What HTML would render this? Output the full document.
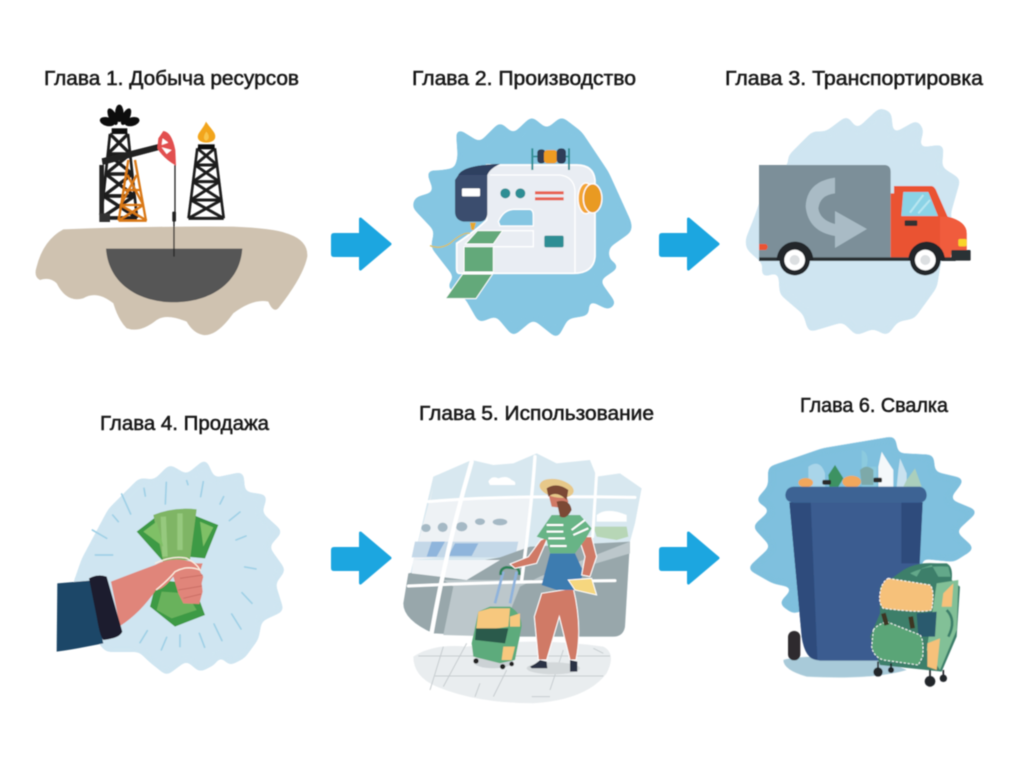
<!DOCTYPE html>
<html lang="ru"><head><meta charset="utf-8"><title>Главы</title>
<style>html,body{margin:0;padding:0;background:#fff}svg{display:block}
text{font-family:"Liberation Sans","DejaVu Sans",sans-serif;font-size:20.5px;fill:#1a1a1a;stroke:#1a1a1a;stroke-width:.55}</style></head>
<body>
<svg width="1024" height="767" viewBox="0 0 1024 767" xmlns="http://www.w3.org/2000/svg">
<defs>
<filter id="b" x="-5%" y="-5%" width="110%" height="110%"><feGaussianBlur stdDeviation=".55"/></filter>
<filter id="goo" x="-10%" y="-10%" width="120%" height="120%" color-interpolation-filters="sRGB"><feGaussianBlur stdDeviation="10"/><feComponentTransfer><feFuncA type="linear" slope="25" intercept="-12"/></feComponentTransfer></filter>
<g id="arrow"><path d="M3 18.5H29.5V3L59 28 29.5 53V39.5H3Q1.500 39.500 1.500 38V20Q1.500 18.500 3 18.500Z" fill="#1ea6e0" stroke="#1ea6e0" stroke-width="3" stroke-linejoin="round"/></g>
<g id="tower" fill="none" stroke="#1c1c1c" stroke-width="9">
<path d="M0 0L-30 210M60 0L90 210M-8 50H68M-15 100H75M-22 155H82M-30 210H90M0 0L68 50M60 0L-8 50M-8 50L75 100M68 50L-15 100M-15 100L82 155M75 100L-22 155M-22 155L90 210M82 155L-30 210"/>
</g>
</defs>
<g filter="url(#b)">
<text x="44" y="85" textLength="255" lengthAdjust="spacingAndGlyphs">Глава 1. Добыча ресурсов</text>
<text x="412" y="85" textLength="224" lengthAdjust="spacingAndGlyphs">Глава 2. Производство</text>
<text x="725" y="85" textLength="258" lengthAdjust="spacingAndGlyphs">Глава 3. Транспортировка</text>
<text x="100" y="430" textLength="169" lengthAdjust="spacingAndGlyphs">Глава 4. Продажа</text>
<text x="419" y="420" textLength="235" lengthAdjust="spacingAndGlyphs">Глава 5. Использование</text>
<text x="800" y="412" textLength="148" lengthAdjust="spacingAndGlyphs">Глава 6. Свалка</text>

<use href="#arrow" x="331" y="216"/><use href="#arrow" x="659" y="216"/>
<use href="#arrow" x="331" y="530"/><use href="#arrow" x="659" y="530"/>

<!-- Oil -->
<g transform="translate(20,50) scale(.3333)">
<path d="M130 538Q400 528 640 530Q760 535 800 550Q865 570 862 620Q850 680 775 775Q760 790 745 755Q700 745 640 790Q590 860 550 855Q520 850 500 815Q440 790 410 810Q360 850 320 835Q295 810 280 760Q230 720 190 745Q140 760 110 700Q90 680 60 690Q40 680 50 650Q70 570 130 538Z" fill="#cfc2b0"/>
<path d="M258 596H667C660 700 570 757 462 757S265 700 258 596Z" fill="#565656"/>
<path d="M465 345V490M462 510V620" stroke="#222" stroke-width="4"/><rect x="457" y="485" width="11" height="30" rx="3" fill="#222"/>
<g transform="translate(270,252) scale(.9,1.2)"><use href="#tower"/></g>
<path d="M275 235H322V252H275Z" fill="#111"/>
<ellipse cx="298" cy="190" rx="13" ry="26" fill="#111"/><ellipse cx="278" cy="200" rx="12" ry="27" fill="#111" transform="rotate(-25 278 200)"/><ellipse cx="318" cy="200" rx="12" ry="27" fill="#111" transform="rotate(25 318 200)"/><ellipse cx="262" cy="215" rx="23" ry="13" fill="#111" transform="rotate(15 262 215)"/><ellipse cx="336" cy="215" rx="23" ry="13" fill="#111" transform="rotate(-15 336 215)"/>
<g fill="none" stroke="#d97818" stroke-width="7"><path d="M325 330L296 512M345 330L378 512M310 420H360M302 465H370M296 512H380M322 375L370 465M350 375L302 465M302 465L380 512M370 465L296 512"/></g>
<path d="M245 325L415 282L418 300L248 345Z" fill="#222"/>
<rect x="238" y="345" width="14" height="150" fill="#222"/><rect x="238" y="490" width="32" height="26" fill="#333"/>
<path d="M430 243Q455 245 466 300L468 347Q430 325 412 295L415 265Z" fill="#e25050"/>
<path d="M428 265L445 278L425 285ZM425 292L455 300L440 312Z" fill="#fff"/>
<g transform="translate(532,295) scale(.88,1)"><use href="#tower"/></g>
<rect x="534" y="283" width="50" height="15" fill="#111"/>
<path d="M558 215C575 240 590 250 585 265C578 282 540 282 534 265C530 250 548 240 558 215Z" fill="#f2a51e"/>
<path d="M559 245C568 255 570 268 558 272C548 268 552 255 559 245Z" fill="#f8c64e"/>
</g>

<!-- Sewing machine -->
<g transform="translate(400,100) scale(.3333)">
<polygon filter="url(#goo)" points="175,95 240,135 300,75 340,110 395,58 440,95 485,58 540,100 620,220 688,370 688,392 620,440 620,480 648,500 590,540 640,610 625,622 560,590 560,640 500,650 470,706 400,650 340,700 290,640 240,660 200,590 150,560 170,530 100,440 110,390 44,320 50,298 110,280 88,218 120,218 170,210 180,170" fill="#85c6e2" stroke="#85c6e2" stroke-width="14" stroke-linejoin="round"/>
<path d="M270 195H530Q580 195 585 240V470Q580 520 520 520H180Q170 520 170 505V430Q230 390 260 360V195Z" fill="#e9edf3" stroke="#fff" stroke-width="5"/>
<path d="M270 225H480Q520 230 525 270V520" fill="none" stroke="#fff" stroke-width="4"/>
<path d="M295 365Q310 330 340 328H390Q400 330 400 345V378H300Z" fill="#85c6e2" stroke="#fff" stroke-width="4"/>
<path d="M260 392H400V440H280" fill="none" stroke="#fff" stroke-width="4"/>
<path d="M175 225Q190 195 300 192Q270 205 262 225V340Q262 362 240 365H190Q165 360 165 335V240Z" fill="#3a4e6e"/>
<path d="M175 225Q190 195 300 192Q270 205 262 225Z" fill="#2f4060"/>
<rect x="186" y="265" width="54" height="24" rx="3" fill="#fff"/>
<circle cx="316" cy="280" r="15" fill="#2f8e94"/><circle cx="361" cy="280" r="15" fill="#2f8e94"/>
<rect x="405" y="274" width="86" height="9" fill="#e8604f"/><rect x="405" y="292" width="86" height="9" fill="#e8604f"/>
<rect x="433" y="407" width="58" height="35" rx="5" fill="#2f8e94"/>
<ellipse cx="558" cy="295" rx="24" ry="46" fill="#f3a530" stroke="#fff" stroke-width="4"/>
<ellipse cx="578" cy="295" rx="28" ry="44" fill="#e99a24" stroke="#fff" stroke-width="4"/>
<rect x="394" y="145" width="6" height="65" fill="#2f8e94"/><rect x="504" y="145" width="6" height="65" fill="#2f8e94"/>
<rect x="400" y="167" width="104" height="5" fill="#2f8e94"/>
<rect x="412" y="148" width="24" height="42" rx="10" fill="#333d52"/><rect x="432" y="150" width="40" height="40" rx="10" fill="#ee9b22"/><rect x="470" y="145" width="28" height="46" rx="12" fill="#2e3e58"/>
<path d="M210 368L228 368L222 390L214 390Z" fill="#e7a82c"/>
<path d="M90 437Q120 450 150 430Q190 395 210 400" fill="none" stroke="#d7c060" stroke-width="4"/>
<path d="M232 392H308L280 432H196Z" fill="#63a97a" stroke="#fff" stroke-width="3"/>
<rect x="192" y="440" width="88" height="76" fill="#63a97a" stroke="#fff" stroke-width="3"/>
<path d="M188 522H278L228 596H136Z" fill="#63a97a" stroke="#fff" stroke-width="3"/>
</g>

<!-- Truck -->
<g transform="translate(740,100) scale(.3333)">
<polygon filter="url(#goo)" points="150,170 220,100 260,100 320,55 350,95 420,30 448,40 455,110 530,68 545,90 530,150 605,140 600,205 655,240 625,345 650,420 600,470 585,560 520,650 470,660 440,700 400,680 350,700 310,660 210,690 195,640 125,580 120,510 70,525 75,490 25,445 22,420 50,350 90,230 150,200" fill="#cfe5f1" stroke="#cfe5f1" stroke-width="12" stroke-linejoin="round"/>
<path d="M57 195H435Q452 197 452 215V472H57Z" fill="#7b8f99"/>
<path d="M285 233V280Q240 285 235 325Q240 360 285 372V333L381 387L285 444V408Q205 395 197 320Q200 245 285 233Z" fill="#a9bbc5"/>
<path d="M452 280H462V258H575Q585 260 590 275L623 350Q680 365 680 400V450H636L632 472H452Z" fill="#ea5233"/>
<path d="M600 350L623 350Q680 365 680 400V450H636L632 472H600Z" fill="#f05c3c"/>
<path d="M490 276H565L594 348H484Z" fill="#8bd3e6"/>
<path d="M510 338L550 285M535 340L570 300" stroke="#b7e6f0" stroke-width="6"/>
<rect x="494" y="361" width="38" height="17" rx="3" fill="#333"/>
<rect x="655" y="417" width="25" height="22" rx="5" fill="#f9d52c"/>
<rect x="634" y="450" width="58" height="32" rx="3" fill="#2c3036"/>
<rect x="57" y="472" width="590" height="11" fill="#2c3036"/>
<path d="M57 432H78Q88 440 78 450H57Z" fill="#ea5233"/>
<path d="M110 480A55 55 0 0 1 220 480Z" fill="#23272c"/><path d="M505 480A55 55 0 0 1 615 480Z" fill="#23272c"/>
<g><circle cx="164" cy="480" r="46" fill="#23272c"/><circle cx="164" cy="480" r="31" fill="#fff"/><circle cx="164" cy="480" r="15" fill="#dcdfe1"/>
<circle cx="556" cy="480" r="46" fill="#23272c"/><circle cx="556" cy="480" r="31" fill="#fff"/><circle cx="556" cy="480" r="15" fill="#dcdfe1"/></g>
</g>

<!-- Money -->
<g transform="translate(40,450) scale(.3333)">
<polygon filter="url(#goo)" points="85,460 130,330 210,180 260,130 300,90 345,95 390,50 440,80 495,35 520,90 605,72 610,130 675,140 660,190 720,245 680,290 730,360 700,400 725,480 660,510 650,565 610,620 570,640 540,610 520,640 480,660 440,625 380,670 330,630 300,600 200,600 150,540" fill="#cfe5f1" stroke="#cfe5f1" stroke-width="12" stroke-linejoin="round"/>
<g stroke="#9fd0e6" stroke-width="5" stroke-linecap="round" fill="none">
<path d="M245 132L272 192M218 195L235 215M157 240L200 265M166 315L218 315M312 115L316 138M379 97L376 162M440 92L444 104M490 95L482 140M551 140L540 162M600 186L568 212M618 258L588 270M614 351L648 357M606 428L636 460M575 492L603 537M522 522L546 572M478 550L494 592M420 555L420 590M380 562L364 600M322 542L300 578"/>
</g>
<path d="M290 245L355 195L440 320L370 335Z" fill="#3d9a45"/><path d="M460 195L535 225L495 325L440 320Z" fill="#3d9a45"/>
<path d="M340 195Q400 170 470 178L450 330L370 335Z" fill="#7fb565"/>
<path d="M370 200L375 320M420 190L420 300" stroke="#96c97e" stroke-width="16"/>
<path d="M480 215L520 232L490 290Z" fill="#7fc066"/><path d="M310 245L350 215L370 290Z" fill="#7fc066"/>
<path d="M350 390L330 470L405 530L495 495L460 400Z" fill="#3d9a45"/><path d="M365 425L350 480L395 505L470 480L440 430Z" fill="#69b25c"/>
<path d="M213 395Q290 365 345 345Q400 315 470 340L488 340L480 365L490 380L485 400L488 425L478 462L430 460L415 430L400 380Q370 420 348 420Q300 490 240 528Z" fill="#e0857a"/>
<path d="M420 385L488 375M415 420L486 408M430 445L484 432" stroke="#c96d64" stroke-width="3"/>
<path d="M345 340Q400 315 440 325Q470 340 480 360Q440 345 405 365Q385 390 348 420" fill="none" stroke="#fbeee0" stroke-width="4"/>
<path d="M52 400L150 392L190 580L140 590Q90 600 50 605Z" fill="#1d4668"/>
<path d="M147 385Q175 370 200 380L247 545Q240 565 190 570Q180 560 170 500Z" fill="#1c1b2e"/>
</g>

<!-- Traveler -->
<g transform="translate(400,440) scale(.3333)">
<path d="M100 110L215 60L280 75L340 70L410 40L470 70L570 60L590 110L660 100L725 145L705 250L690 305L675 560Q670 590 640 590H300L100 580Q10 540 10 490Z" fill="#d8e8f0"/>
<path d="M100 140L40 360L370 330L395 175L195 180L90 185Z" fill="#eef2f5"/>
<path d="M45 305H355L345 352H35Z" fill="#c4d8e8"/><path d="M95 305H135L110 350H80ZM165 310H235L215 348H145Z" fill="#8fb5dc"/>
<path d="M25 400L300 352L390 320L690 305L675 560Q670 590 640 590H300L100 580Q10 540 10 490Z" fill="#98a7ab"/>
<path d="M130 420L160 440L130 585L300 590L360 440L420 410L690 305V340L420 420Z" fill="#bcc7cb"/>
<path d="M40 360H300L200 420L35 400Z" fill="#f1f4f7"/>
<g fill="#a5b9c5"><ellipse cx="78" cy="264" rx="14" ry="12"/><ellipse cx="128" cy="262" rx="15" ry="14"/><ellipse cx="185" cy="260" rx="17" ry="14"/><ellipse cx="240" cy="245" rx="15" ry="10"/><ellipse cx="300" cy="246" rx="22" ry="10"/></g>
<path d="M265 125Q275 105 295 115Q320 105 335 120Q350 125 345 135H270Z" fill="#fff"/>
<path d="M590 225Q620 200 680 225V245H590Z" fill="#fff"/>
<path d="M580 260L680 260L685 290L650 300L590 290Z" fill="#b7d6b6"/>
<g stroke="#fff" fill="none" stroke-linecap="round"><path d="M215 65Q140 320 95 578" stroke-width="13"/><path d="M405 50Q395 200 365 420" stroke-width="10"/><path d="M590 100Q585 180 578 290" stroke-width="9"/><path d="M85 185Q300 165 705 172" stroke-width="9"/><path d="M25 438Q300 425 645 422" stroke-width="9"/></g>
<path d="M40 650Q100 610 200 620Q400 590 610 620Q650 640 620 700Q560 780 400 790Q230 790 110 740Q40 710 40 650Z" fill="#e9edef"/>
<path d="M55 648H630M105 708H610M130 620L90 750M200 610L130 740M320 690L280 770M490 630L450 750M240 730L225 770M395 770H450M580 625L610 640" stroke="#c6cccf" stroke-width="3" fill="none"/>
<ellipse cx="280" cy="665" rx="60" ry="20" fill="#ccd2d5"/><ellipse cx="460" cy="685" rx="80" ry="18" fill="#d3d8da"/>
<path d="M310 395L285 490M350 395L330 490" fill="none" stroke="#8fb3dc" stroke-width="8"/>
<path d="M302 405Q300 385 320 382L350 385Q360 390 358 405" fill="none" stroke="#2f8259" stroke-width="8"/>
<path d="M235 515L270 500H330Q365 520 365 560L345 660L300 670L220 650L215 610Z" fill="#5dab7c"/>
<path d="M235 515L270 505H330L325 560L228 575Z" fill="#f7c87e"/>
<path d="M330 530L360 520L360 560L330 560ZM310 620H345L335 660H305Z" fill="#f7c87e"/>
<path d="M228 565L325 565L315 610L225 600Z" fill="#2a5a4b"/>
<circle cx="228" cy="663" r="8" fill="#222"/><circle cx="308" cy="680" r="8" fill="#222"/><circle cx="335" cy="672" r="7" fill="#222"/>
<path d="M425 460L520 445Q548 560 528 660H510L478 530L440 660H415L403 530Z" fill="#d07a66" stroke="#fff" stroke-width="3"/>
<path d="M390 680Q410 670 420 660L440 665L442 685H395ZM510 660L532 665L532 695H510Z" fill="#2a3244"/>
<path d="M450 340H525L550 395L535 450H470L425 435Z" fill="#3c7cb0"/>
<path d="M422 300L445 290L410 370L345 385L330 372L385 350ZM535 290L575 290L590 350L570 410L545 405L555 350Z" fill="#d07a66" stroke="#fff" stroke-width="3"/>
<path d="M455 225L540 225L575 265L555 300L525 340H450L440 300L410 290Z" fill="#68b486"/>
<path d="M440 255H490M440 275H490M445 295H495M450 318H500M515 270L555 240M520 285L565 265" stroke="#fff" stroke-width="6"/>
<path d="M505 420L575 415L590 465L525 450Z" fill="#f6d77f" stroke="#fff" stroke-width="3"/>
<path d="M445 160Q490 130 505 185L495 205L455 200Z" fill="#d07a66"/>
<path d="M470 185Q510 175 515 210Q500 240 480 230Z" fill="#7c4a35"/>
<ellipse cx="470" cy="145" rx="52" ry="27" fill="#e7c889" transform="rotate(12 470 145)"/>
<path d="M440 145Q470 125 505 150L500 180Q470 150 445 170Z" fill="#7c4a35"/>
</g>

<!-- Bin -->
<g transform="translate(740,430) scale(.3333)">
<polygon filter="url(#goo)" points="90,115 250,60 460,25 470,75 575,80 580,130 665,150 620,210 705,245 640,305 695,355 640,390 540,380 540,420 160,545 125,520 170,470 100,455 30,415 100,350 45,290 100,240 55,210 90,170" fill="#7fc0de" stroke="#7fc0de" stroke-width="12" stroke-linejoin="round"/>
<path d="M130 690Q200 670 430 690L500 720Q400 750 200 740Q130 720 130 690Z" fill="#a8cad9"/>
<rect x="144" y="603" width="37" height="88" rx="18" fill="#2d2a2e"/>
<path d="M205 110Q240 85 255 130V170H205Z" fill="#a9d5e9"/><path d="M365 60Q390 70 380 110H410V170H365V120Z" fill="#8ccadf"/>
<path d="M425 65Q440 90 460 120V170H415V110Z" fill="#f4f8fa"/><path d="M480 85L500 130V170H470L475 120Z" fill="#c9e2ef"/>
<path d="M500 150L525 115L545 170H490Z" fill="#aacfbc"/>
<path d="M265 135L285 105L310 145L295 170H268Z" fill="#3c9262"/>
<ellipse cx="197" cy="158" rx="22" ry="14" fill="#f1a75c"/><ellipse cx="335" cy="155" rx="28" ry="18" fill="#f1a75c"/>
<rect x="247" y="150" width="26" height="14" rx="5" fill="#2b2b2b"/><rect x="400" y="143" width="26" height="14" rx="5" fill="#2b2b2b"/>
<path d="M360 120Q380 100 400 120L400 165H365Z" fill="#7da9a9"/>
<path d="M148 217H548L530 600Q525 670 470 692H240Q195 690 185 620Z" fill="#3a5c90"/>
<path d="M148 217H212L232 690Q195 690 185 620Z" fill="#2f4b7c"/><path d="M484 217H548L538 400H484Z" fill="#2f4b7c"/>
<path d="M160 170H540Q560 175 560 197Q558 218 535 218H160Q136 215 136 195Q138 172 160 170Z" fill="#3d6494"/>
<path d="M490 420Q530 395 590 400H620Q640 410 635 450L660 470L650 620L605 725L420 705L390 620L420 550L420 470Z" fill="#3c7f6a"/>
<path d="M510 430Q560 405 625 410L632 440H595L575 405L545 415L530 440Z" fill="#7dc3a0" opacity=".6"/>
<path d="M590 460L655 450L650 600L600 720L560 660Z" fill="#82c097"/>
<path d="M530 550L590 545L585 620L535 620Z" fill="#2a5a6e"/>
<path d="M445 445L570 465Q585 480 575 540Q550 550 430 535Q415 520 420 490Q425 455 445 445Z" fill="#f6c17a" stroke="#fff" stroke-width="3" stroke-dasharray="7 5"/>
<path d="M400 600Q410 585 440 575L540 615Q552 630 548 680L535 705L430 690Q400 680 395 650Z" fill="#5aa577" stroke="#fff" stroke-width="3" stroke-dasharray="7 5"/>
<path d="M430 550L440 585M512 560L518 595" stroke="#3e3524" stroke-width="14"/>
<path d="M610 490L640 460L635 530L605 530ZM562 640L600 625L590 720L562 710Z" fill="#f6c17a"/>
<path d="M620 540Q650 570 625 620" fill="none" stroke="#3c7f6a" stroke-width="8"/>
<path d="M414 726V695M570 754V720M610 745V720M453 720V700" stroke="#22262c" stroke-width="5"/>
<circle cx="414" cy="726" r="14" fill="#22262c"/><circle cx="570" cy="754" r="16" fill="#22262c"/><circle cx="610" cy="745" r="11" fill="#22262c"/><circle cx="453" cy="720" r="9" fill="#22262c"/>
</g>
</g>
</svg>
</body></html>
